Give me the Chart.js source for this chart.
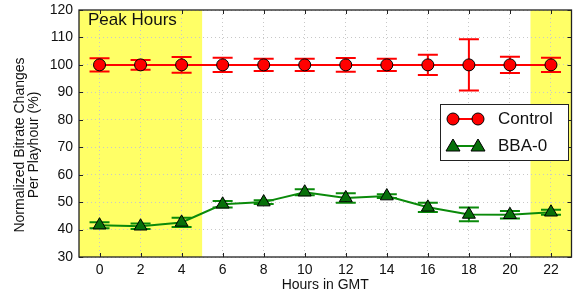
<!DOCTYPE html>
<html>
<head>
<meta charset="utf-8">
<script src="https://cdn.jsdelivr.net/npm/chart.js@4.4.0/dist/chart.umd.min.js"></script>
<style>
  body { margin: 0; background: #fff; }
  #wrap { width: 580px; height: 296px; }
</style>
</head>
<body>
<div id="wrap"><canvas id="chart" width="580" height="296"></canvas></div>
<script>
"use strict";

// values
const hours = [0, 2, 4, 6, 8, 10, 12, 14, 16, 18, 20, 22];
const controlMean = [100, 100, 100, 100, 100, 100, 100, 100, 100, 100, 100, 100];
const controlErr = [2.4, 1.8, 2.9, 2.6, 2.2, 2.2, 2.5, 2.2, 3.7, 9.3, 3.0, 2.6];
const bbaMean = [41.6, 41.2, 42.6, 49.2, 50.0, 53.6, 51.5, 52.2, 48.1, 45.5, 45.4, 46.3];
const bbaErr = [1.1, 1.0, 1.7, 1.2, 0.7, 1.1, 1.7, 0.7, 1.7, 2.5, 1.4, 0.9];
const xTicks = [0, 2, 4, 6, 8, 10, 12, 14, 16, 18, 20, 22];
const yTicks = [30, 40, 50, 60, 70, 80, 90, 100, 110, 120];
const peakBands = [[-1, 5], [21, 23]];

const FONT = 'Liberation Sans, Arial, Helvetica, sans-serif';

function points(means) {
    return hours.map(function (h, i) { return { x: h, y: means[i] }; });
}

const bgPlugin = {
    id: 'bands',
    beforeDraw: function (chart) {
        const ctx = chart.ctx, a = chart.chartArea;
        const x = chart.scales.x;
        ctx.save();
        ctx.fillStyle = '#ffff66';
        peakBands.forEach(function (b) {
            const x0 = x.getPixelForValue(b[0]), x1 = x.getPixelForValue(b[1]);
            ctx.fillRect(x0, a.top, x1 - x0, a.bottom - a.top);
        });
        ctx.restore();
    }
};

const errPlugin = {
    id: 'errbars',
    beforeDatasetsDraw: function (chart) {
        const ctx = chart.ctx;
        const x = chart.scales.x, y = chart.scales.y;
        const sets = [[controlMean, controlErr, '#ff0000'], [bbaMean, bbaErr, '#0a8a0a']];
        ctx.save();
        ctx.lineWidth = 2;
        sets.forEach(function (s) {
            ctx.strokeStyle = s[2];
            hours.forEach(function (h, i) {
                const px = x.getPixelForValue(h);
                const top = y.getPixelForValue(s[0][i] + s[1][i]);
                const bot = y.getPixelForValue(s[0][i] - s[1][i]);
                ctx.beginPath();
                ctx.moveTo(px, top); ctx.lineTo(px, bot);
                ctx.moveTo(px - 10, top); ctx.lineTo(px + 10, top);
                ctx.moveTo(px - 10, bot); ctx.lineTo(px + 10, bot);
                ctx.stroke();
            });
        });
        ctx.restore();
    }
};

const framePlugin = {
    id: 'frame',
    afterDraw: function (chart) {
        const ctx = chart.ctx, a = chart.chartArea;
        const x = chart.scales.x, y = chart.scales.y;
        ctx.save();
        // inward tick marks on all four sides
        ctx.strokeStyle = '#222';
        ctx.lineWidth = 1;
        ctx.beginPath();
        xTicks.forEach(function (v) {
            const px = Math.round(x.getPixelForValue(v)) + 0.5;
            ctx.moveTo(px, a.bottom); ctx.lineTo(px, a.bottom - 4);
            ctx.moveTo(px, a.top); ctx.lineTo(px, a.top + 4);
        });
        yTicks.forEach(function (v) {
            const py = Math.round(y.getPixelForValue(v)) + 0.5;
            ctx.moveTo(a.left, py); ctx.lineTo(a.left + 4, py);
            ctx.moveTo(a.right, py); ctx.lineTo(a.right - 4, py);
        });
        ctx.stroke();
        ctx.lineWidth = 1.3;
        ctx.strokeRect(a.left, a.top, a.right - a.left, a.bottom - a.top);

        // band label
        ctx.fillStyle = '#111';
        ctx.font = '17px ' + FONT;
        ctx.textBaseline = 'middle';
        ctx.fillText('Peak Hours', a.left + 9, a.top + 10);

        // axis titles
        ctx.font = '14px ' + FONT;
        ctx.textAlign = 'center';
        ctx.fillText('Hours in GMT', (a.left + a.right) / 2, 285);
        ctx.translate(27, 145);
        ctx.rotate(-Math.PI / 2);
        ctx.fillText('Normalized Bitrate Changes', 0, -7);
        ctx.fillText('Per Playhour (%)', 0, 7);
        ctx.restore();

        // legend
        ctx.save();
        const lx = 440, ly = 104, lw = 128, lh = 56;
        ctx.fillStyle = '#fff';
        ctx.fillRect(lx, ly, lw, lh);
        ctx.strokeStyle = '#222';
        ctx.lineWidth = 1;
        ctx.strokeRect(lx + 0.5, ly + 0.5, lw, lh);
        const items = chart.data.datasets;
        items.forEach(function (ds, i) {
            const cy = ly + 15 + i * 27;
            ctx.strokeStyle = ds.borderColor;
            ctx.lineWidth = 2;
            ctx.beginPath();
            ctx.moveTo(453, cy); ctx.lineTo(478, cy);
            ctx.stroke();
            [453, 478].forEach(function (cx) {
                ctx.fillStyle = ds.pointBackgroundColor;
                ctx.strokeStyle = '#000';
                ctx.lineWidth = 1;
                ctx.beginPath();
                if (ds.pointStyle === 'triangle') {
                    ctx.moveTo(cx, cy - 7); ctx.lineTo(cx + 7, cy + 5); ctx.lineTo(cx - 7, cy + 5);
                    ctx.closePath();
                } else {
                    ctx.arc(cx, cy, 6, 0, Math.PI * 2);
                }
                ctx.fill(); ctx.stroke();
            });
            ctx.fillStyle = '#111';
            ctx.font = '17px ' + FONT;
            ctx.textBaseline = 'middle';
            ctx.fillText(ds.label, 498, cy);
        });
        ctx.restore();
    }
};

function fixedTicks(list) {
    return function (scale) { scale.ticks = list.map(function (v) { return { value: v }; }); };
}

new Chart(document.getElementById('chart'), {
    type: 'line',
    data: {
        datasets: [{
            label: 'Control',
            data: points(controlMean),
            borderColor: '#ff0000',
            borderWidth: 2,
            pointStyle: 'circle',
            pointRadius: 6,
            pointBackgroundColor: '#ff0000',
            pointBorderColor: '#000',
            pointBorderWidth: 1
        }, {
            label: 'BBA-0',
            data: points(bbaMean),
            borderColor: '#0a8a0a',
            borderWidth: 2,
            pointStyle: 'triangle',
            pointRadius: 7.5,
            pointBackgroundColor: '#07700a',
            pointBorderColor: '#000',
            pointBorderWidth: 1
        }]
    },
    options: {
        responsive: false,
        animation: false,
        layout: { padding: { top: 10, right: 8, left: 0, bottom: 0 } },
        plugins: { legend: { display: false }, tooltip: { enabled: false } },
        scales: {
            x: {
                type: 'linear', min: -1, max: 23,
                afterBuildTicks: fixedTicks(xTicks),
                afterFit: function (s) { s.height = 39; s.paddingLeft = 0; s.paddingRight = 0; },
                grid: { color: '#c8c8c8', drawTicks: false },
                border: { display: false, dash: [1, 3] },
                ticks: { font: { family: FONT, size: 14 }, color: '#111', padding: 5 }
            },
            y: {
                type: 'linear', min: 30, max: 120,
                afterBuildTicks: fixedTicks(yTicks),
                afterFit: function (s) { s.width = 79; s.paddingTop = 0; s.paddingBottom = 0; },
                grid: { color: '#c8c8c8', drawTicks: false },
                border: { display: false, dash: [1, 3] },
                ticks: { font: { family: FONT, size: 14 }, color: '#111', padding: 6 }
            }
        }
    },
    plugins: [bgPlugin, errPlugin, framePlugin]
});
</script>
</body>
</html>
